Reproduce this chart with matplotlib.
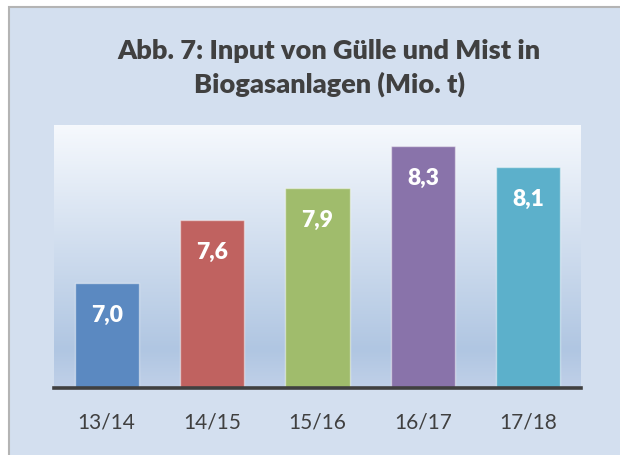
import matplotlib.pyplot as plt
import matplotlib.patches as patches
from matplotlib.colors import LinearSegmentedColormap
import numpy as np

# data
seasons = ['13/14', '14/15', '15/16', '16/17', '17/18']
values = [7.0, 7.6, 7.9, 8.3, 8.1]
labels = ['7,0', '7,6', '7,9', '8,3', '8,1']
bar_colors = ['#5b89c1', '#c06260', '#a0bc6c', '#8973aa', '#5cb0cb']
title_lines = ['Abb. 7: Input von Gülle und Mist in', 'Biogasanlagen (Mio. t)']

plt.rcParams['font.family'] = ['Lato', 'DejaVu Sans']

fig = plt.figure(figsize=(6.2, 4.56), dpi=100)
fig.patch.set_facecolor('white')

# light blue panel with grey frame (runs off the right/bottom edge)
panel = patches.Rectangle((8.5 / 620, -0.1), 1.2, (456 - 7.5) / 456 + 0.1,
                          transform=fig.transFigure, facecolor='#d3dfef',
                          edgecolor='#b4b4b4', linewidth=1.5, zorder=-1)
fig.patches.append(panel)

# title
fig.text(0.531, 1 - 59 / 456, title_lines[0], ha='center', va='baseline',
         fontsize=19.5, fontweight='heavy', color='#404040')
fig.text(0.531, 1 - 93 / 456, title_lines[1], ha='center', va='baseline',
         fontsize=19.5, fontweight='heavy', color='#404040')

ax = fig.add_axes([54 / 620, 1 - 389 / 456, 527 / 620, 263 / 456])
ax.set_zorder(1)
ax.set_xlim(-0.5, 4.5)
ax.set_ylim(6, 8.5)

# plot area gradient: white at top -> light blue near bottom
grad_cmap = LinearSegmentedColormap.from_list(
    'plotbg', [(0.0, (192/255, 208/255, 232/255)),
               (0.145, (176/255, 198/255, 226/255)),
               (1.0, (246/255, 249/255, 253/255))])
grad = np.linspace(0, 1, 256).reshape(-1, 1)
ax.imshow(grad, cmap=grad_cmap, origin='lower', aspect='auto',
          extent=(-0.5, 4.5, 6, 8.5), zorder=0)

x = np.arange(len(seasons))
bars = ax.bar(x, values, width=0.61, color=bar_colors,
              edgecolor=(1, 1, 1, 0.45), linewidth=1, zorder=2)

for xi, v, lab in zip(x, values, labels):
    ax.annotate(lab, (xi, v), xytext=(0, -27.5), textcoords='offset points',
                ha='center', va='baseline', fontsize=16.5, fontweight='heavy',
                color='white', zorder=3)

ax.set_xticks(x)
ax.set_xticklabels(seasons, fontsize=15, color='#404040')
ax.tick_params(axis='x', length=0, pad=17)
ax.set_yticks([])
for s in ['top', 'left', 'right']:
    ax.spines[s].set_visible(False)
ax.spines['bottom'].set_color('#404040')
ax.spines['bottom'].set_linewidth(2.6)
ax.spines['bottom'].set_zorder(4)

fig.savefig('out.png', dpi=100)
